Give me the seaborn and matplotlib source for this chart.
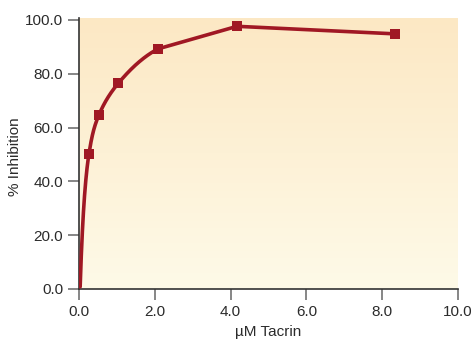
import numpy as np
import pandas as pd
import matplotlib
matplotlib.use("Agg")
import matplotlib.pyplot as plt
from matplotlib.colors import LinearSegmentedColormap
import seaborn as sns

# Tacrin concentration (µM) and measured inhibition (%)
concentration = [0.26, 0.52, 1.04, 2.08, 4.17, 8.33]
inhibition = [50.0, 64.5, 76.5, 89.2, 97.6, 94.8]
x_ticks = [0.0, 2.0, 4.0, 6.0, 8.0, 10.0]
y_ticks = [0.0, 20.0, 40.0, 60.0, 80.0, 100.0]

df = pd.DataFrame({"conc": concentration, "inh": inhibition})

sns.set_theme(style="ticks")
plt.rcParams["font.family"] = ["Liberation Sans", "DejaVu Sans"]

LINE = "#A01824"

fig = plt.figure(figsize=(4.74, 3.39), dpi=100)
ax = fig.add_axes([0.1667, 0.1475, 0.7995, 0.7995])
ax.set_xlim(0, 10)
ax.set_ylim(0, 100.7)

# vertical warm gradient behind the data
grad = LinearSegmentedColormap.from_list("warm", ["#FEFAE8", "#FCE8C4"])
ax.imshow(np.linspace(0, 1, 256).reshape(-1, 1), cmap=grad, aspect="auto",
          extent=[0, 10, 0, 100.7], origin="lower", zorder=0)


def centripetal_spline(pts, n=60, alpha=0.5):
    """Centripetal Catmull-Rom curve through display points (first/last are guides)."""
    out = []
    for i in range(1, len(pts) - 2):
        p0, p1, p2, p3 = pts[i - 1], pts[i], pts[i + 1], pts[i + 2]
        t0 = 0.0
        t1 = t0 + np.linalg.norm(p1 - p0) ** alpha
        t2 = t1 + np.linalg.norm(p2 - p1) ** alpha
        t3 = t2 + np.linalg.norm(p3 - p2) ** alpha
        t = np.linspace(t1, t2, n)[:, None]
        a1 = (t1 - t) / (t1 - t0) * p0 + (t - t0) / (t1 - t0) * p1
        a2 = (t2 - t) / (t2 - t1) * p1 + (t - t1) / (t2 - t1) * p2
        a3 = (t3 - t) / (t3 - t2) * p2 + (t - t2) / (t3 - t2) * p3
        b1 = (t2 - t) / (t2 - t0) * a1 + (t - t0) / (t2 - t0) * a2
        b2 = (t3 - t) / (t3 - t1) * a2 + (t - t1) / (t3 - t1) * a3
        c = (t2 - t) / (t2 - t1) * b1 + (t - t1) / (t2 - t1) * b2
        out.append(c)
    return np.vstack(out)


# smooth rise from the origin to the 2.08 µM point, straight segments afterwards
xs = np.concatenate([[0.03], df["conc"].to_numpy()])
ys = np.concatenate([[0.8], df["inh"].to_numpy()])
disp = ax.transData.transform(np.column_stack([xs, ys]))
guide_start = np.array([disp[0][0], 2 * disp[0][1] - disp[1][1]])
smooth_pts = np.vstack([guide_start, disp[:6]])
curve = centripetal_spline(smooth_pts)
curve = np.vstack([curve, disp[5:]])
curve_data = ax.transData.inverted().transform(curve)
curve_df = pd.DataFrame({"conc": curve_data[:, 0], "inh": curve_data[:, 1]})

sns.lineplot(data=curve_df, x="conc", y="inh", sort=False, color=LINE,
             linewidth=2.6, ax=ax, zorder=3)
sns.scatterplot(data=df, x="conc", y="inh", marker="s", s=56, color=LINE,
                edgecolor=LINE, linewidth=0, ax=ax, zorder=4)

ax.set_xticks(x_ticks)
ax.set_yticks(y_ticks)
ax.set_xticklabels([f"{v:.1f}" for v in x_ticks])
ax.set_yticklabels([f"{v:.1f}" for v in y_ticks])
ax.tick_params(axis="both", direction="out", length=8, width=1.1,
               color="#666666", labelsize=11, labelcolor="#2b2b2b", pad=3.5)
ax.set_xlabel("µM Tacrin", fontsize=11, color="#2b2b2b", labelpad=4)
ax.set_ylabel("% Inhibition", fontsize=11, color="#2b2b2b")
ax.yaxis.set_label_coords(-0.150, 0.487)

for side in ("top", "right"):
    ax.spines[side].set_visible(False)
for side in ("left", "bottom"):
    ax.spines[side].set_color("#333333")
    ax.spines[side].set_linewidth(1.2)

ax.set_xlim(0, 10)
ax.set_ylim(0, 100.7)
fig.savefig("out.png", dpi=100)
